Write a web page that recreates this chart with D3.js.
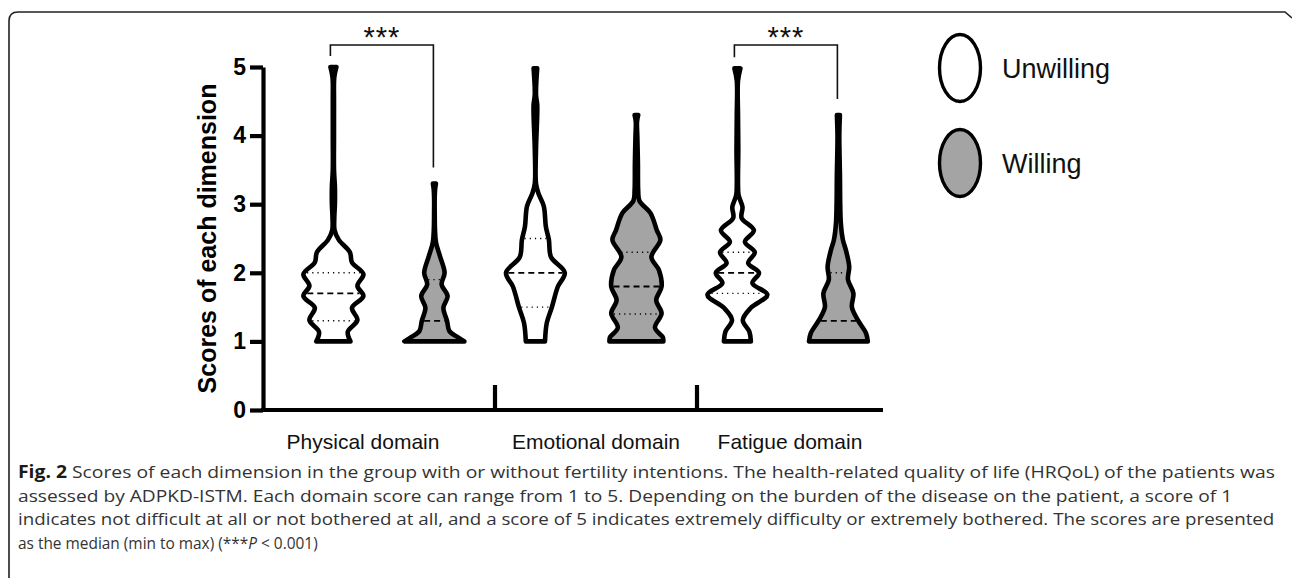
<!DOCTYPE html>
<html>
<head>
<meta charset="utf-8">
<script src="https://cdn.jsdelivr.net/npm/d3@7"></script>
<style>
  body { margin: 0; background: #fff; }
  svg { display: block; }
</style>
</head>
<body>
<script>
// ---- data ----
var groups = ["Physical domain", "Emotional domain", "Fatigue domain"];
var series = ["Unwilling", "Willing"];
var yTicks = [0, 1, 2, 3, 4, 5];

// violin outlines: [score, relative density]
var physUnwilling = [[1.0,.57],[1.14,.48],[1.31,.8],[1.49,.62],[1.66,1.0],[1.81,.8],[1.98,1.0],[2.15,.62],[2.3,.55],[2.48,.18],[2.62,.04],[2.8,.03],[3.0,.05],[3.25,.05],[3.5,.02],[4.0,.02],[4.5,.02],[4.85,.03],[5.0,.1]];
var physWilling = [[1.0,1.0],[1.07,.75],[1.15,.5],[1.3,.42],[1.49,.3],[1.66,.44],[1.83,.24],[2.0,.34],[2.25,.18],[2.45,.05],[2.9,.01],[3.2,.02],[3.3,.05]];
var emoUnwilling = [[1.0,.32],[1.27,.38],[1.5,.55],[1.8,.75],[2.0,.98],[2.23,.52],[2.48,.45],[2.67,.35],[2.97,.28],[3.16,.1],[3.3,.02],[3.8,.02],[4.3,.06],[4.45,.06],[4.6,.02],[4.98,.06]];
var emoWilling = [[1.0,.9],[1.06,.88],[1.2,.62],[1.41,.84],[1.6,.66],[1.8,.84],[2.04,.75],[2.23,.5],[2.48,.8],[2.62,.68],[2.87,.47],[3.05,.1],[3.2,.06],[3.6,.05],[4.0,.03],[4.2,.02],[4.3,.06]];
var fatUnwilling = [[1.0,.45],[1.14,.4],[1.31,.18],[1.49,.45],[1.68,1.0],[1.85,.5],[2.0,.72],[2.14,.36],[2.3,.58],[2.45,.25],[2.62,.55],[2.8,.14],[2.96,.17],[3.13,.04],[3.3,.02],[3.8,.03],[4.3,.02],[4.8,.02],[4.98,.1]];
var fatWilling = [[1.0,.98],[1.12,.92],[1.31,.65],[1.5,.45],[1.7,.5],[1.9,.32],[2.09,.36],[2.33,.25],[2.48,.15],[2.73,.08],[3.45,.05],[4.0,.03],[4.3,.05]];

var profiles = [physUnwilling, physWilling, emoUnwilling, emoWilling, fatUnwilling, fatWilling];
var medians = [1.7, 1.3, 2.0, 1.8, 2.0, 1.3];
var lowerQ = [1.3, 1.0, 1.5, 1.4, 1.7, 1.0];
var upperQ = [2.0, 1.9, 2.5, 2.3, 2.3, 2.0];

var sigGroups = ["Physical domain", "Fatigue domain"];
var sigLabel = "***";

var captionLines = [
  [["Fig. 2", "bold"], [" Scores of each dimension in the group with or without fertility intentions. The health-related quality of life (HRQoL) of the patients was", ""]],
  [["assessed by ADPKD-ISTM. Each domain score can range from 1 to 5. Depending on the burden of the disease on the patient, a score of 1", ""]],
  [["indicates not difficult at all or not bothered at all, and a score of 5 indicates extremely difficulty or extremely bothered. The scores are presented", ""]],
  [["as the median (min to max) (***", ""], ["P", "italic"], [" < 0.001)", ""]]
];
var captionWidths = [1258, 1215, 1257, 300];

// ---- drawing ----
var width = 1292, height = 578;
var svg = d3.select("body").append("svg").attr("width", width).attr("height", height);

// figure frame
svg.append("path")
  .attr("d", "M9,578 L9,21 Q9,12 18,12 L1285,12 L1292,18")
  .attr("fill", "none").attr("stroke", "#222").attr("stroke-width", 1.6);

var plotLeft = 263;
var y = d3.scaleLinear().domain([0, 5]).range([410, 67]);
var x = d3.scaleBand().domain(groups).range([293, 899]);
var xIn = d3.scalePoint().domain(series).range([x.bandwidth() * 0.2, x.bandwidth() * 0.7]);
var w = d3.scaleLinear().domain([0, 1]).range([0, 30]);
var fill = d3.scaleOrdinal().domain(series).range(["#ffffff", "#a4a4a4"]);

var violins = profiles.map(function(p, i) {
  var g = groups[Math.floor(i / 2)], s = series[i % 2];
  return { group: g, series: s, profile: p, median: medians[i], q1: lowerQ[i], q3: upperQ[i],
           cx: x(g) + xIn(s) };
});

var area = d3.area()
  .curve(d3.curveCatmullRom.alpha(0.5))
  .y(function(d) { return y(d[0]); })
  .x0(function(d) { return -w(d[1]); })
  .x1(function(d) { return w(d[1]); });

var vg = svg.selectAll("g.violin").data(violins).enter().append("g")
  .attr("class", "violin")
  .attr("transform", function(d) { return "translate(" + d.cx + ",0)"; });

vg.append("path")
  .attr("d", function(d) { return area(d.profile); })
  .attr("fill", function(d) { return fill(d.series); })
  .attr("stroke", "#000").attr("stroke-width", 4.6).attr("stroke-linejoin", "round");

function halfAt(d, v) {
  var f = d3.scaleLinear().domain(d.profile.map(function(p) { return p[0]; }))
    .range(d.profile.map(function(p) { return p[1]; }));
  return Math.max(0, w(f(v)) - 2.3);
}

vg.each(function(d) {
  var g = d3.select(this);
  [[d.q1, "1.2,4", 1.4], [d.q3, "1.2,4", 1.4], [d.median, "6,4", 1.8]].forEach(function(q) {
    if (q[0] <= d.profile[0][0]) return;
    var h = halfAt(d, q[0]);
    g.append("line")
      .attr("x1", -h).attr("x2", h).attr("y1", y(q[0])).attr("y2", y(q[0]))
      .attr("stroke", "#000").attr("stroke-width", q[2]).attr("stroke-dasharray", q[1]);
  });
});

// y axis
var yAxis = svg.append("g").attr("transform", "translate(" + plotLeft + ",0)")
  .call(d3.axisLeft(y).tickValues(yTicks).tickFormat(d3.format("d"))
    .tickSize(13).tickSizeOuter(0).tickPadding(4));
yAxis.select(".domain").attr("stroke-width", 4.2).attr("stroke", "#000");
yAxis.selectAll(".tick line").attr("stroke-width", 4.2).attr("stroke", "#000");
yAxis.selectAll(".tick text")
  .attr("font-family", "Liberation Sans, Arial, sans-serif").attr("font-weight", "bold")
  .attr("font-size", 23).attr("fill", "#000");

svg.append("text")
  .attr("transform", "translate(216," + (y(2.5)) + ") rotate(-90)")
  .attr("text-anchor", "middle")
  .attr("font-family", "Liberation Sans, Arial, sans-serif").attr("font-weight", "bold")
  .attr("font-size", 25).attr("fill", "#000")
  .text("Scores of each dimension");

// x axis
var plotRight = x.range()[1] - 16;
svg.append("line")
  .attr("x1", plotLeft - 2).attr("x2", plotRight).attr("y1", y(0)).attr("y2", y(0))
  .attr("stroke", "#000").attr("stroke-width", 4.2);
var bounds = [plotLeft].concat(groups.slice(1).map(function(g) { return x(g); })).concat([plotRight]);
svg.selectAll("line.sep").data(groups.slice(1)).enter().append("line")
  .attr("class", "sep")
  .attr("x1", function(g) { return x(g); }).attr("x2", function(g) { return x(g); })
  .attr("y1", y(0)).attr("y2", y(0) - 25)
  .attr("stroke", "#000").attr("stroke-width", 4.2);
svg.selectAll("text.xlab").data(groups).enter().append("text")
  .attr("class", "xlab")
  .attr("x", function(g, i) { return (bounds[i] + bounds[i + 1]) / 2 - (i === 0 ? 16 : 0); })
  .attr("y", 449)
  .attr("text-anchor", "middle")
  .attr("font-family", "Liberation Sans, Arial, sans-serif")
  .attr("font-size", 21).attr("fill", "#111")
  .text(function(g) { return g; });

// significance brackets
sigGroups.forEach(function(g) {
  var a = violins.filter(function(v) { return v.group === g && v.series === series[0]; })[0];
  var b = violins.filter(function(v) { return v.group === g && v.series === series[1]; })[0];
  var topY = 45;
  var ax = a.cx - 3, bx = b.cx - 1;
  var aEnd = y(d3.max(a.profile, function(p) { return p[0]; })) - 11;
  var bEnd = y(d3.max(b.profile, function(p) { return p[0]; })) - 16;
  svg.append("path")
    .attr("d", "M" + ax + "," + aEnd + "V" + topY + "H" + bx + "V" + bEnd)
    .attr("fill", "none").attr("stroke", "#111").attr("stroke-width", 1.6);
  svg.append("text")
    .attr("x", (ax + bx) / 2).attr("y", 47)
    .attr("text-anchor", "middle")
    .attr("font-family", "Liberation Sans, Arial, sans-serif")
    .attr("font-size", 29).attr("letter-spacing", 1).attr("fill", "#111")
    .text(sigLabel);
});

// legend
var leg = svg.selectAll("g.leg").data(series).enter().append("g")
  .attr("class", "leg")
  .attr("transform", function(d, i) { return "translate(960," + (68 + i * 95) + ")"; });
leg.append("ellipse").attr("rx", 20.5).attr("ry", 33.5)
  .attr("fill", function(d) { return fill(d); })
  .attr("stroke", "#000").attr("stroke-width", 3.4);
leg.append("text").attr("x", 42).attr("y", 10)
  .attr("font-family", "Liberation Sans, Arial, sans-serif")
  .attr("font-size", 27).attr("fill", "#111")
  .text(function(d) { return d; });

// caption: each line squeezed horizontally to the measured width
var cap = svg.selectAll("text.cap").data(captionLines).enter().append("text")
  .attr("class", "cap")
  .attr("x", 0).attr("y", 0)
  .attr("font-family", "Open Sans, Noto Sans, sans-serif")
  .attr("font-size", 17).attr("fill", "#333");
cap.selectAll("tspan").data(function(d) { return d; }).enter().append("tspan")
  .attr("font-weight", function(d) { return d[1] === "bold" ? "bold" : null; })
  .attr("font-style", function(d) { return d[1] === "italic" ? "italic" : null; })
  .attr("fill", function(d) { return d[1] === "bold" ? "#1a1a1a" : null; })
  .text(function(d) { return d[0]; });
cap.attr("transform", function(d, i) {
  var natural = this.getComputedTextLength();
  return "translate(18," + (478 + i * 23.5) + ") scale(" + (captionWidths[i] / natural) + ",1)";
});
</script>
</body>
</html>
